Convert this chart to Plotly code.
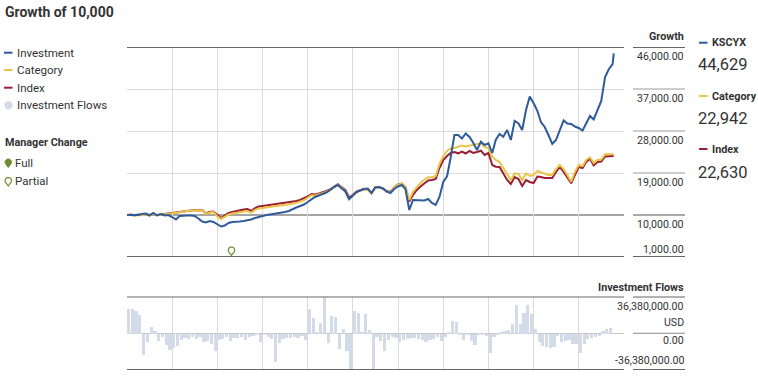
import plotly.graph_objects as go
import pandas as pd

# ---------------- data ----------------
investment = [
    10000, 10000, 10107, 10000, 10214, 10321, 9893, 10429, 9893, 10214, 9893, 10000,
    9571, 9036, 9786, 9893, 9893, 9893, 9786, 9250, 8607, 8393, 8714, 8500,
    8071, 7536, 7750, 8286, 8500, 8500, 8607, 8714, 8821, 9036, 9357, 9571,
    9893, 10000, 10107, 10214, 10321, 10429, 10643, 10857, 11286, 11607, 11929, 12250,
    12786, 13429, 13857, 14179, 14500, 14821, 15357, 16000, 16429, 15679, 15036, 13429,
    14286, 14929, 15250, 15571, 15679, 14714, 15893, 16000, 15679, 15036, 14714, 15571,
    16107, 16429, 15571, 11071, 13214, 13214, 13214, 13107, 13429, 12571, 12143, 13857,
    17071, 18357, 22214, 27143, 27143, 26393, 27464, 26714, 25429, 23929, 25708, 25000,
    25365, 23286, 26071, 27357, 26780, 28214, 26071, 30143, 29607, 28214, 32500, 35393,
    34000, 32286, 29929, 28857, 27143, 25214, 26071, 28000, 30250, 29607, 29500, 28964,
    28643, 28107, 29500, 31214, 30464, 32286, 34429, 39571, 41286, 42357,
    44629]

category = [
    9950, 10050, 9850, 10000, 9930, 10100, 9920, 10150, 9900, 10050, 10150, 10250,
    10400, 10500, 10550, 10700, 10850, 10950, 11020, 10900, 11000, 10250, 10550, 10700,
    9700, 9150, 9600, 10100, 10300, 10450, 10650, 10750, 10850, 10500, 11100, 11400,
    11500, 11600, 11700, 11800, 11950, 12050, 12150, 12250, 12400, 12600, 12800, 13150,
    13700, 14250, 14200, 14400, 14600, 14950, 15300, 15850, 16500, 15900, 15150, 13300,
    14100, 14900, 15250, 15450, 15400, 14650, 15850, 15950, 15650, 15100, 14900, 15850,
    16500, 16750, 16050, 13214, 14993, 16000, 16857, 17607, 18079, 18079, 18357, 20929,
    22643, 23714, 24294, 24357, 24637, 24894, 24680, 24894, 25000, 25214, 25365, 24571,
    24294, 22494, 21786, 21357, 20071, 18571, 17500, 18936, 18786, 17500, 18893, 18357,
    18571, 19429, 19107, 18786, 18571, 18571, 19857, 20714, 19857, 18571, 17136, 19214,
    20714, 20500, 21786, 22365, 21143, 21786, 21893, 23008, 23071, 23000,
    22942]

index_vals = [
    10000, 10107, 9893, 10107, 10000, 10214, 10000, 10214, 10000, 10107, 10214, 10321,
    10429, 10536, 10536, 10750, 10857, 10964, 11071, 10964, 11071, 10321, 10643, 10750,
    10000, 9357, 9893, 10429, 10643, 10857, 11071, 11179, 11286, 10857, 11500, 11821,
    11929, 12036, 12143, 12250, 12357, 12464, 12571, 12679, 12786, 13000, 13214, 13536,
    13964, 14500, 14393, 14607, 14821, 15143, 15464, 16000, 16579, 16000, 15357, 13750,
    14286, 15036, 15357, 15571, 15464, 14714, 15893, 16000, 15679, 15143, 14929, 15893,
    16536, 16750, 16000, 12893, 14286, 15357, 16107, 16750, 17393, 17500, 17714, 20071,
    21786, 22643, 23286, 23500, 23222, 23607, 23179, 23714, 23286, 23500, 23779, 22857,
    23286, 20714, 20351, 20286, 18786, 17500, 16643, 18143, 17714, 16214, 17500, 17071,
    16857, 18250, 18143, 17929, 17929, 17929, 19214, 20286, 19214, 17929, 16793, 18571,
    20286, 20071, 21357, 22107, 20607, 21357, 21464, 22536, 22643, 22700,
    22630]

# monthly investment flows, millions of USD
flows_musd = [
    25, 25, 23, 19, -21, -8, 7, 3, -7, -3, -11, -16,
    -14, -12, -6, -4, -5, -3, -5, -3, -8, -7, -10, -17,
    -6, -5, -3, -7, -4, -4, -3, -6, -3, -2, -1, -8,
    -1, -3, -5, -28, -9, -5, -4, -4, -3, -4, -2, -6,
    25, 16, 1, 11, 36, -9, 18, 17, -15, 5, -17, -36,
    23, 21, 1, 20, 4, -36, -3, -7, -17, -6, -3, -4,
    -8, -6, -5, -4, -4, -5, -6, -8, -6, -5, -3, -7,
    -3, 2, 13, 12, -1, -6, -1, -7, -11, -1, -1, -2,
    -19, -3, -1, 2, 3, 4, 10, 28, 10, 21, 28, 20,
    5, -8, -12, -13, -14, -13, -2, -8, -7, -6, -10, -10,
    -19, -10, -5, -4, -3, -2, 3, 5, 6]

growth_ticks = [46000, 37000, 28000, 19000, 10000, 1000]
growth_tick_labels = ["46,000.00", "37,000.00", "28,000.00", "19,000.00", "10,000.00", "1,000.00"]
flow_max = 36380000
flow_tick_labels = ["36,380,000.00", "USD", "0.00", "-36,380,000.00"]

manager_change_dates = ["2016-04-25"]
series_names = ["KSCYX", "Category", "Index"]
series_final = ["44,629", "22,942", "22,630"]

month_starts = pd.date_range("2014-01-01", periods=130, freq="MS")
line_dates = list(month_starts) + [pd.Timestamp("2024-10-10")]
flow_dates = month_starts[:len(flows_musd)] + pd.Timedelta(days=14)

# ---------------- styling ----------------
C_INV = "#2f5b9b"
C_CAT = "#e9c547"
C_IDX = "#9b1e34"
C_FLOW = "#d3dbe8"
C_PIN = "#6b8e2e"
TXT = "#333333"
FONT = "Roboto, Liberation Sans, sans-serif"

W, H = 758, 387
PL, PR, PT, PB = 127, 624, 47, 370


def px(x):
    return (x - PL) / (PR - PL)


def py(y):
    return (PB - y) / (PB - PT)


main_bottom = py(257)
flow_top = py(296.5)

fig = go.Figure()
fig.add_trace(go.Bar(x=flow_dates, y=[v * 1e6 for v in flows_musd], marker_color=C_FLOW,
                     marker_line_width=0, width=26 * 86400000, xaxis="x2", yaxis="y2",
                     showlegend=False, hoverinfo="skip"))
fig.add_trace(go.Scatter(x=line_dates, y=index_vals, mode="lines",
                         line=dict(color=C_IDX, width=2), showlegend=False))
fig.add_trace(go.Scatter(x=line_dates, y=category, mode="lines",
                         line=dict(color=C_CAT, width=2), showlegend=False))
fig.add_trace(go.Scatter(x=line_dates, y=investment, mode="lines",
                         line=dict(color=C_INV, width=2), showlegend=False))

xcommon = dict(type="date", range=["2014-01-01", "2025-01-01"], showgrid=True,
               gridcolor="#dadada", gridwidth=1, dtick="M12", tick0="2014-01-01",
               showticklabels=False, ticks="", zeroline=False, showline=False)

fig.update_layout(
    width=W, height=H,
    margin=dict(l=PL, r=W - PR, t=PT, b=H - PB),
    paper_bgcolor="white", plot_bgcolor="white",
    font=dict(family=FONT, color=TXT, size=12),
    showlegend=False,
    bargap=0,
    xaxis=dict(domain=[0, 1], anchor="y", **xcommon),
    xaxis2=dict(domain=[0, 1], anchor="y2", matches="x", **xcommon),
    yaxis=dict(domain=[main_bottom, 1], range=[1000, 46000], tickvals=[19000, 28000, 37000],
               showgrid=True, gridcolor="#dadada", gridwidth=1, showticklabels=False,
               zeroline=False, ticks=""),
    yaxis2=dict(domain=[0, flow_top], range=[-flow_max, flow_max], showgrid=False,
                zeroline=True, zerolinecolor="#c9c9c9", zerolinewidth=1,
                showticklabels=False, ticks=""),
)

shapes = []
DARK = "#666666"
# frame lines of panels
for yv in (46000, 1000):
    shapes.append(dict(type="line", xref="paper", x0=0, x1=1, yref="y", y0=yv, y1=yv,
                       line=dict(color=DARK, width=2), layer="above"))
shapes.append(dict(type="line", xref="paper", x0=0, x1=1, yref="y", y0=10000, y1=10000,
                   line=dict(color="#4d4d4d", width=1.2), layer="below"))
for yv in (flow_max, -flow_max):
    shapes.append(dict(type="line", xref="paper", x0=0, x1=1, yref="y2", y0=yv, y1=yv,
                       line=dict(color=DARK, width=2), layer="above"))
# right-side tick segments
for yv in growth_ticks:
    if yv in (46000, 1000):
        ln = dict(color=DARK, width=2)
    elif yv == 10000:
        ln = dict(color="#555555", width=1.2)
    else:
        ln = dict(color="#9a9a9a", width=1)
    shapes.append(dict(type="line", xref="paper", x0=px(633), x1=px(685), yref="y",
                       y0=yv, y1=yv, line=ln))
for yv, ln in ((flow_max, dict(color=DARK, width=2)), (0, dict(color="#8a8a8a", width=1)),
               (-flow_max, dict(color=DARK, width=2))):
    shapes.append(dict(type="line", xref="paper", x0=px(633), x1=px(685), yref="y2",
                       y0=yv, y1=yv, line=ln))

# legend dashes
for ypix, col in ((52.7, C_INV), (70, C_CAT), (87.7, C_IDX)):
    shapes.append(dict(type="line", xref="paper", yref="paper", x0=px(4), x1=px(12.5),
                       y0=py(ypix), y1=py(ypix), line=dict(color=col, width=2)))
for ypix, col in ((42.7, C_INV), (96, C_CAT), (149, C_IDX)):
    shapes.append(dict(type="line", xref="paper", yref="paper", x0=px(699), x1=px(707.5),
                       y0=py(ypix), y1=py(ypix), line=dict(color=col, width=2)))
# flows legend dot
shapes.append(dict(type="circle", xref="paper", yref="paper", xsizemode="pixel",
                   ysizemode="pixel", xanchor=px(8.5), yanchor=py(105.3),
                   x0=-4.2, x1=4.2, y0=-4.2, y1=4.2, fillcolor=C_FLOW,
                   line=dict(width=0)))


def pin_path(cy=5.3, r=3.2, base=0.0):
    import math
    pts = [(0, base)]
    a = -55
    while a <= 235:
        rad = math.radians(a)
        pts.append((r * math.cos(rad), base + cy + r * math.sin(rad)))
        a += 15
    d = "M" + " L".join(f"{x:.2f},{y:.2f}" for x, y in pts) + " Z"
    return d


# legend pins
shapes.append(dict(type="path", xref="paper", yref="paper", xsizemode="pixel", ysizemode="pixel",
                   xanchor=px(8.3), yanchor=py(167.5), path=pin_path(),
                   fillcolor=C_PIN, line=dict(color=C_PIN, width=1)))
shapes.append(dict(type="path", xref="paper", yref="paper", xsizemode="pixel", ysizemode="pixel",
                   xanchor=px(8.3), yanchor=py(186), path=pin_path(),
                   fillcolor="white", line=dict(color=C_PIN, width=1.2)))
# manager change pin on chart
for d in manager_change_dates:
    shapes.append(dict(type="path", xref="x", yref="y", xsizemode="pixel", ysizemode="pixel",
                       xanchor=d, yanchor=1000, path=pin_path(base=1.5),
                       fillcolor="white", line=dict(color=C_PIN, width=1.2), layer="above"))

fig.update_layout(shapes=shapes)

ann = []


def text(x, y, s, size=12, bold=False, anchor="left", color=TXT):
    ann.append(dict(xref="paper", yref="paper", x=px(x), y=py(y), text=f"<b>{s}</b>" if bold else s,
                    showarrow=False, xanchor=anchor, yanchor="middle", borderpad=0, borderwidth=0,
                    font=dict(family=FONT, size=size, color=color)))


text(4.5, 11.5, "Growth of 10,000", size=14, bold=True)
for ypix, s in ((52.7, "Investment"), (70, "Category"), (87.7, "Index"), (105.3, "Investment Flows")):
    text(17.3, ypix, s, size=11.5)
text(4.5, 142.7, "Manager Change", size=10.8, bold=True)
text(15, 163, "Full", size=11.5)
text(15, 181, "Partial", size=11.5)

# right axis labels
text(684, 36.7, "Growth", size=10.8, bold=True, anchor="right")
label_y = [56.7, 98.7, 140.5, 182.7, 224.5, 249]
for ypix, s in zip(label_y, growth_tick_labels):
    text(684, ypix, s, size=10.6, anchor="right")
text(684, 287.3, "Investment Flows", size=10.8, bold=True, anchor="right")
for ypix, s in zip([306.7, 322.3, 340.7, 360.5], flow_tick_labels):
    text(684, ypix, s, size=10.6, anchor="right")

# right legend
for (yn, yv), name, val in zip(((42.7, 64.7), (96, 118), (149, 172)), series_names, series_final):
    text(712.3, yn, name, size=10.8, bold=True)
    text(697.5, yv, val, size=16.5)

fig.update_layout(annotations=ann)
fig.write_html("out.html")
